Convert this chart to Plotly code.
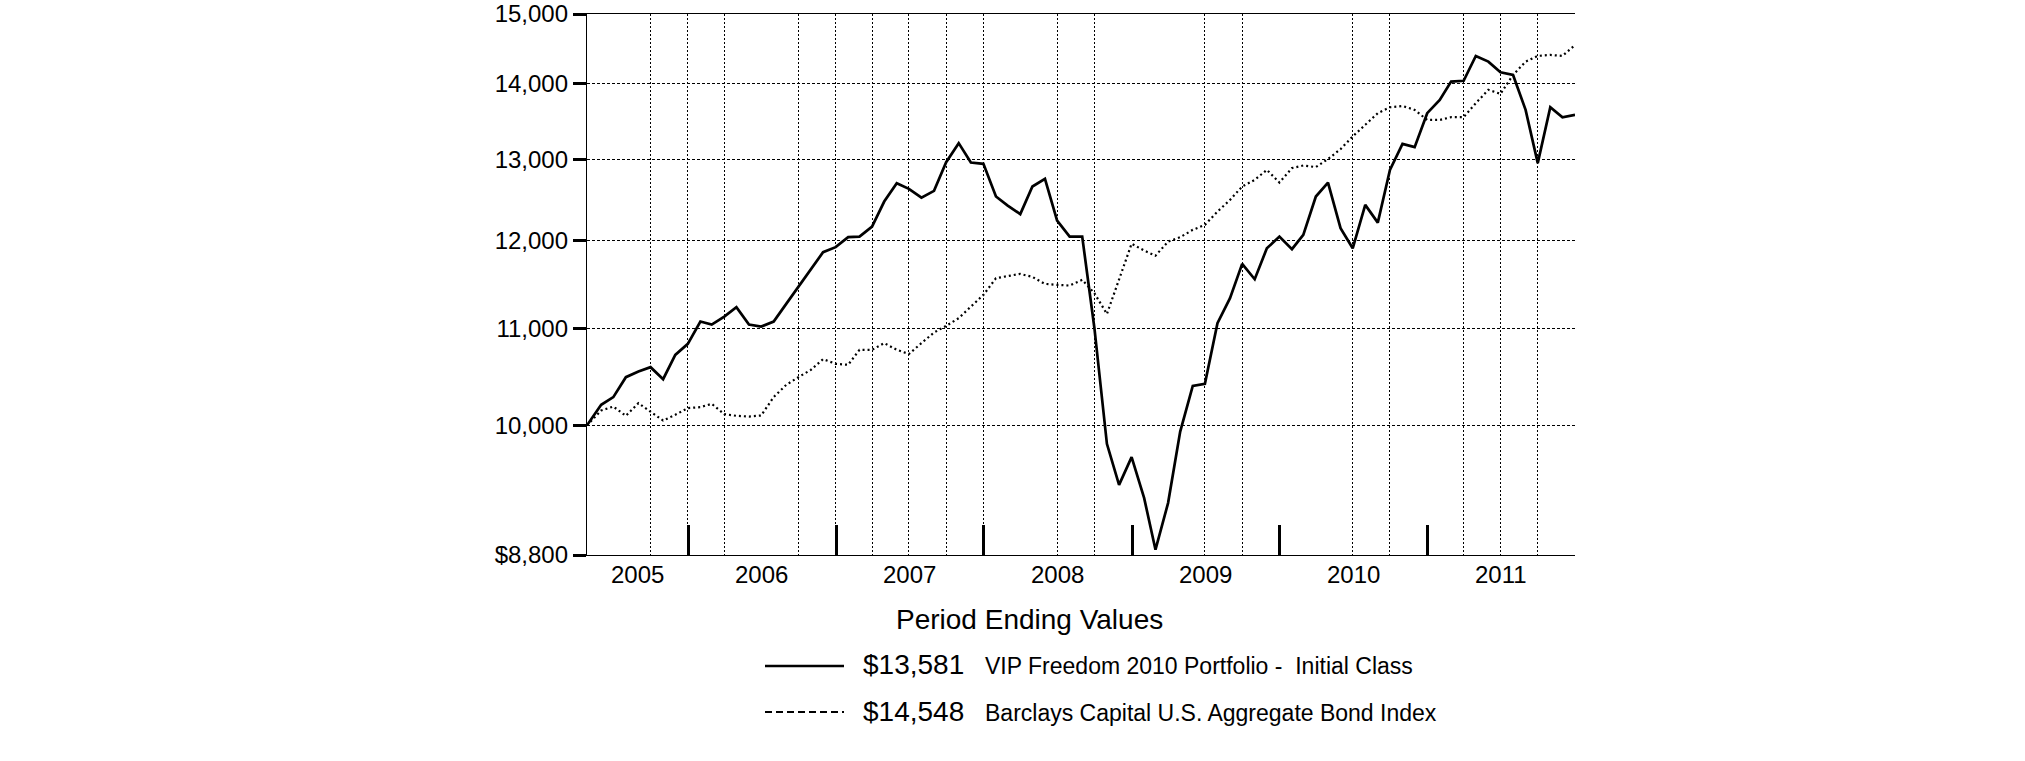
import pandas as pd
import plotly.graph_objects as go

# growth of $10,000, inception 4/26/2005 then month ends
start_date = "2005-04-26"
month_ends = [pd.Timestamp(y, m, 1) + pd.offsets.MonthEnd(0)
              for y in range(2005, 2012) for m in range(1, 13) if (y, m) >= (2005, 5)]
dates = [pd.Timestamp(start_date)] + month_ends

fund_vals = [10000,
             10204, 10282, 10486, 10544, 10590, 10465, 10719, 10836,
             11077, 11044, 11132, 11236, 11044, 11022, 11077, 11272, 11459, 11656, 11861, 11920,
             12038, 12045, 12164, 12468, 12696, 12625, 12517, 12600, 12962, 13207, 12957, 12940,
             12530, 12419, 12314, 12654, 12750, 12237, 12045, 12045, 11010, 9819, 9430, 9691,
             9307, 8846, 9262, 9939, 10397, 10418, 11059, 11335, 11725, 11549, 11907, 12045,
             11896, 12066, 12530, 12704, 12145, 11907, 12427, 12212, 12864, 13198, 13155, 13603,
             13783, 14034, 14044, 14393, 14312, 14163, 14125, 13647, 12949, 13683, 13549, 13581]

index_vals = [10000,
              10147, 10187, 10094, 10221, 10137, 10047, 10104, 10171,
              10181, 10214, 10111, 10094, 10087, 10097, 10282, 10407, 10486, 10562, 10674, 10625,
              10615, 10773, 10773, 10844, 10773, 10728, 10844, 10958, 11030, 11114, 11241, 11372,
              11561, 11587, 11610, 11575, 11496, 11485, 11477, 11542, 11392, 11160, 11556, 11960,
              11880, 11820, 11986, 12038, 12125, 12185, 12345, 12488, 12654, 12737, 12864, 12704,
              12886, 12919, 12899, 13001, 13130, 13294, 13448, 13603, 13683, 13700, 13647, 13513,
              13513, 13549, 13549, 13738, 13920, 13865, 14125, 14312, 14393, 14407, 14393, 14548]

fund_name = "VIP Freedom 2010 Portfolio -  Initial Class"
index_name = "Barclays Capital U.S. Aggregate Bond Index"
fund_end = "$13,581"
index_end = "$14,548"

year_starts = ["2006-01-01", "2007-01-01", "2008-01-01", "2009-01-01", "2010-01-01", "2011-01-01"]
grid_dates = ["2005-09-30", "2005-12-31", "2006-03-31", "2006-09-30", "2006-12-31", "2007-03-31",
              "2007-06-30", "2007-09-30", "2007-12-31", "2008-06-30", "2008-09-30", "2009-06-30",
              "2009-09-30", "2010-06-30", "2010-09-30", "2011-03-31", "2011-06-30", "2011-09-30"]
year_labels = ["2005", "2006", "2007", "2008", "2009", "2010", "2011"]
year_label_dates = ["2005-08-29", "2006-07-02", "2007-07-02", "2008-07-02",
                    "2009-07-02", "2010-07-02", "2011-07-02"]

y_ticks = [8800, 10000, 11000, 12000, 13000, 14000, 15000]
y_tick_text = ["$8,800", "10,000", "11,000", "12,000", "13,000", "14,000", "15,000"]

FONT = "Liberation Sans, Arial, sans-serif"
W, H = 2025, 761
L, R, T, B = 587, 450, 14, 206


def px2x(px):
    return (px - L) / (W - L - R)


def py2y(py):
    return (H - B - py) / (H - T - B)


fig = go.Figure()
fig.add_trace(go.Scatter(x=dates, y=fund_vals, mode="lines", name=fund_name,
                         line=dict(color="black", width=2.7)))
fig.add_trace(go.Scatter(x=dates, y=index_vals, mode="lines", name=index_name,
                         line=dict(color="black", width=2.2, dash="2px,3px")))

fig.update_xaxes(type="date", range=[start_date, "2011-12-31"], automargin=False,
                 showline=True, linecolor="black", linewidth=1.3, mirror=True,
                 tickmode="array", tickvals=year_starts, showticklabels=False,
                 ticks="inside", ticklen=30, tickwidth=2.5, tickcolor="black",
                 showgrid=False, zeroline=False,
                 minor=dict(tickmode="array", tickvals=grid_dates, ticks="",
                            showgrid=True, gridcolor="black", gridwidth=1, griddash="2px,2px"))

fig.update_yaxes(type="log", range=[4.0 - 0.0555173, 4.1760913], automargin=False,
                 tickmode="array", tickvals=y_ticks, ticktext=y_tick_text,
                 ticks="outside", ticklen=13, tickwidth=3, tickcolor="black",
                 tickfont=dict(size=24, color="black", family=FONT),
                 showline=True, linecolor="black", linewidth=1.3, mirror=False,
                 showgrid=True, gridcolor="black", gridwidth=1, griddash="3px,2px",
                 zeroline=False)

annotations = []
for lab, d in zip(year_labels, year_label_dates):
    annotations.append(dict(x=d, xref="x", y=py2y(574), yref="paper", text=lab, showarrow=False,
                            xanchor="center", yanchor="middle",
                            font=dict(size=24, color="black", family=FONT)))

annotations.append(dict(x=px2x(1029), y=py2y(619), xref="paper", yref="paper",
                        text="Period Ending Values", showarrow=False, xanchor="center", yanchor="middle",
                        font=dict(size=28, color="black", family=FONT)))

rows = [(fund_end, fund_name, 664, 666, "solid", 2.7),
        (index_end, index_name, 711, 712, "7px,4px", 2.2)]
shapes = []
for val, name, ty, ly, dash, lw in rows:
    shapes.append(dict(type="line", xref="paper", yref="paper", x0=px2x(765), x1=px2x(844),
                       y0=py2y(ly), y1=py2y(ly), line=dict(color="black", width=lw, dash=dash)))
    annotations.append(dict(x=px2x(861), y=py2y(ty), xref="paper", yref="paper", text=val,
                            showarrow=False, xanchor="left", yanchor="middle",
                            font=dict(size=28, color="black", family=FONT)))
    annotations.append(dict(x=px2x(983), y=py2y(ty + 2), xref="paper", yref="paper", text=name,
                            showarrow=False, xanchor="left", yanchor="middle",
                            font=dict(size=23, color="black", family=FONT)))

fig.update_layout(width=W, height=H, margin=dict(l=L, r=R, t=T, b=B, autoexpand=False),
                  paper_bgcolor="white", plot_bgcolor="white", showlegend=False,
                  hovermode=False, font=dict(family=FONT, color="black"),
                  annotations=annotations, shapes=shapes)

# page body margin would push the fixed-size figure 8px off
fig.write_html("out.html", config={"displayModeBar": False},
               post_script="document.body.style.margin = '0';")
